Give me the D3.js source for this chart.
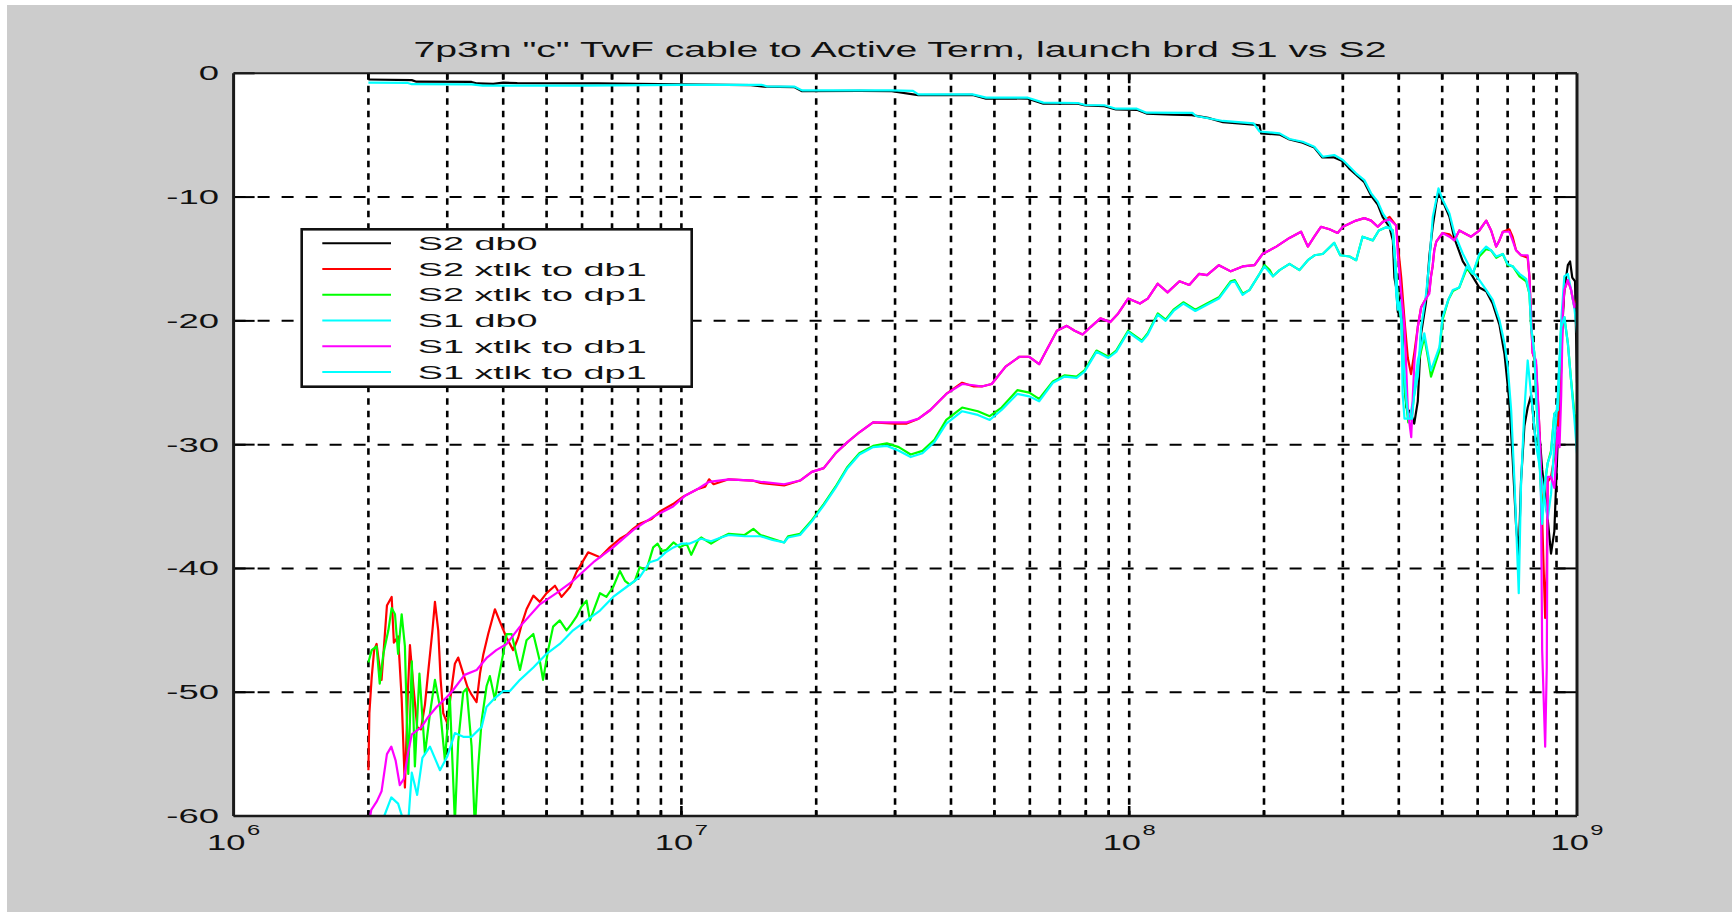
<!DOCTYPE html>
<html>
<head>
<meta charset="utf-8">
<script src="https://cdn.jsdelivr.net/npm/d3@7"></script>
<style>
  html, body { margin: 0; padding: 0; background: #ffffff; }
  svg { display: block; }
  text { font-family: "Liberation Sans", Arial, Helvetica, sans-serif; fill: #111; }
</style>
</head>
<body>
<script>
// ---- data: frequency in MHz, magnitude in dB ----
const titleText = '7p3m "c" TwF cable to Active Term, launch brd S1 vs S2';
const seriesNames = ["S2 db0", "S2 xtlk to db1", "S2 xtlk to dp1", "S1 db0", "S1 xtlk to db1", "S1 xtlk to dp1"];
const seriesColors = ["#000000", "#ff0000", "#00ff00", "#00ffff", "#ff00ff", "#00ffff"];
const yTickValues = [0, -10, -20, -30, -40, -50, -60];
const xDecades = [6, 7, 8, 9];

const s2Db0 = [[2.0,-0.5],[2.5,-0.55],[2.56,-0.68],[3.4,-0.7],[3.5,-0.82],[3.8,-0.86],[4.0,-0.76],[4.3,-0.8],[6.5,-0.82],[9.9,-0.9],[14.3,-0.95],[15.3,-1.08],[17.9,-1.12],[18.6,-1.45],[25,-1.42],[29.5,-1.45],[33.8,-1.76],[44.7,-1.75],[47.9,-2.05],[52,-2.02],[59.4,-2.05],[64.3,-2.45],[76.7,-2.45],[79.8,-2.6],[88,-2.65],[93.4,-2.92],[104,-2.95],[109.3,-3.25],[125,-3.35],[138,-3.38],[150,-3.6],[162,-3.95],[189.6,-4.15],[195.5,-4.2],[197,-4.85],[216.7,-4.95],[228,-5.35],[244,-5.6],[259,-6.0],[270,-6.8],[287,-6.8],[300,-7.1],[310,-7.7],[321,-8.2],[335,-8.8],[347,-9.9],[359,-10.6],[368,-11.6],[381,-12.4],[388,-13.5],[391,-16.5],[394.7,-17.3],[398,-19.3],[405,-17.5],[410,-24],[416,-27],[426,-27.5],[433,-28.3],[441,-26.5],[448.7,-21],[460,-18.5],[468,-14.8],[476,-12.4],[484.8,-10.5],[490.5,-9.6],[501,-10.3],[519,-11.6],[532,-13.3],[556,-15.2],[580,-16.2],[605,-17.3],[627,-17.6],[648,-18.6],[671,-20.3],[689,-22.7],[706,-26.5],[718,-31],[731,-36.5],[741,-39],[750,-32.9],[763,-28.5],[776,-27],[790,-26],[810,-30],[824,-29],[836,-32],[849,-34],[860,-36],[875,-38.8],[890,-37],[905,-30],[922,-22],[937,-17.5],[954,-15.5],[965,-15.2],[976,-16.5],[990,-16.8],[1000,-25]];

const s2Db1 = [[2.0,-56.3],[2.01,-51.7],[2.034,-48.8],[2.06,-46.6],[2.086,-46.1],[2.11,-47.5],[2.14,-49.0],[2.2,-43.0],[2.254,-42.3],[2.28,-46.0],[2.33,-45.5],[2.373,-50.5],[2.413,-57.7],[2.45,-50.0],[2.476,-46.2],[2.52,-49.5],[2.57,-52.8],[2.62,-53.0],[2.675,-51.0],[2.721,-48.3],[2.78,-45.0],[2.816,-42.7],[2.864,-45.0],[2.9,-49.0],[2.939,-51.7],[3.0,-52.5],[3.067,-49.7],[3.12,-47.7],[3.174,-47.2],[3.257,-48.5],[3.33,-49.6],[3.4,-50.2],[3.488,-50.8],[3.55,-48.5],[3.609,-47.0],[3.703,-45.3],[3.833,-43.3],[3.932,-44.3],[4.07,-45.6],[4.21,-46.6],[4.32,-45.6],[4.4,-44.5],[4.51,-43.3],[4.67,-42.2],[4.83,-42.7],[5.0,-42.0],[5.22,-41.4],[5.4,-42.3],[5.64,-41.5],[5.83,-40.3],[6.19,-38.7],[6.58,-39.1],[6.92,-38.3],[7.29,-37.6],[7.54,-37.3],[7.8,-36.8],[8.07,-36.4],[8.58,-36.0],[8.95,-35.4],[9.58,-34.8],[10.09,-34.2],[10.85,-33.6],[11.3,-33.4],[11.53,-32.8],[11.8,-33.2],[12.76,-32.8],[14.42,-32.9],[15.02,-33.1],[16.96,-33.3],[18.41,-32.9],[19.56,-32.2],[20.79,-31.9],[22.09,-30.7],[23.49,-29.8],[24.97,-29.0],[26.8,-28.2],[29.99,-28.3],[31.85,-28.3],[33.86,-27.9],[35.97,-27.2],[39.04,-25.9],[42.36,-25.0],[44.99,-25.3],[46.86,-25.3],[49.31,-25.1],[52.96,-23.7],[56.86,-22.9],[59.83,-22.9],[62.93,-23.5],[64.87,-22.6],[68.96,-20.8],[72.55,-20.4],[75.55,-20.8],[78.7,-21.1],[81.96,-20.5],[86.24,-19.8],[90.74,-20.1],[94.51,-19.4],[99.43,-18.2],[105.7,-18.6],[110,-18.2],[115.8,-17.0],[121.8,-17.7],[129.5,-16.8],[136.2,-17.1],[143.3,-16.2],[149.2,-16.3],[158.6,-15.5],[168.6,-16.0],[179.2,-15.6],[190.5,-15.5],[198.4,-14.6],[213,-14.0],[228,-13.3],[242,-12.8],[250.6,-14.0],[259,-13.2],[268,-12.4],[280,-12.6],[292,-12.9],[300,-12.4],[321,-11.9],[335,-11.7],[347,-11.9],[359,-12.4],[368.5,-12.0],[381.4,-11.6],[394.7,-12.3],[398,-13.8],[405,-16.5],[412,-20],[419,-23],[426,-24.3],[433.6,-22.5],[441,-20.5],[448.7,-18.9],[460,-18.2],[468,-17.6],[472,-16.4],[476,-15.6],[480,-14.3],[485,-13.6],[501,-12.9],[519,-13.0],[532,-13.5],[546,-12.7],[580,-13.2],[605,-12.7],[627,-11.9],[643,-12.7],[660,-14.0],[671,-13.5],[683,-12.8],[706,-12.6],[718,-13.2],[731,-14.3],[750,-14.7],[776,-14.9],[783,-16.4],[790,-20],[796,-22.6],[810,-23.5],[824,-28.6],[836,-36],[849,-44],[856,-40],[860,-33],[875,-32.6],[890,-31],[906,-28.6],[914,-26],[922,-24],[930,-19.1],[937,-17.5],[954,-16.7],[970,-17.5],[987,-18.9],[1000,-18.2]];

const s2Dp1 = [[2.0,-47.6],[2.034,-46.6],[2.086,-46.3],[2.12,-49.3],[2.16,-46.9],[2.216,-45.0],[2.254,-43.2],[2.293,-43.7],[2.33,-46.9],[2.373,-43.7],[2.413,-46.3],[2.455,-56.6],[2.5,-47.5],[2.54,-56.0],[2.6,-48.5],[2.675,-55.0],[2.745,-51.7],[2.816,-49.0],[2.889,-51.2],[2.964,-55.5],[3.04,-50.4],[3.12,-60.5],[3.174,-54.0],[3.257,-50.0],[3.314,-49.7],[3.4,-54.4],[3.458,-61],[3.518,-56.0],[3.58,-52.3],[3.673,-49.5],[3.735,-48.7],[3.833,-50.6],[3.898,-49.0],[4.0,-46.9],[4.07,-45.3],[4.177,-45.3],[4.36,-48.2],[4.51,-45.8],[4.67,-45.3],[4.83,-47.5],[4.91,-49.0],[5.04,-46.6],[5.17,-44.7],[5.35,-44.2],[5.54,-45.0],[5.68,-44.5],[5.83,-43.9],[5.98,-43.1],[6.14,-42.6],[6.25,-44.2],[6.41,-43.1],[6.58,-42.0],[6.8,-42.3],[7.04,-41.5],[7.29,-40.2],[7.48,-41.0],[7.67,-41.3],[7.87,-41.0],[8.07,-39.9],[8.36,-40.1],[8.65,-38.3],[8.85,-38.0],[9.04,-38.6],[9.26,-38.5],[9.6,-37.9],[9.92,-38.3],[10.27,-38.0],[10.52,-38.9],[10.9,-37.7],[11.07,-37.5],[11.65,-38.0],[12.26,-37.5],[12.76,-37.2],[13.84,-37.3],[14.48,-36.8],[15.02,-37.3],[15.97,-37.6],[16.96,-37.9],[17.31,-37.4],[18.41,-37.2],[19.56,-36.1],[20.79,-34.8],[22.09,-33.4],[23.49,-31.8],[24.97,-30.7],[26.8,-30.1],[28.77,-29.9],[30.58,-30.2],[32.51,-30.8],[34.54,-30.5],[36.73,-29.6],[39.04,-28.0],[42.36,-27.0],[45.93,-27.3],[48.82,-27.7],[51.88,-27.0],[56.25,-25.6],[59.83,-25.8],[62.93,-26.3],[67.54,-24.9],[71.81,-24.4],[76.3,-24.5],[79.48,-24.0],[84.52,-22.4],[89.83,-22.9],[93.55,-22.4],[99.43,-20.8],[106.7,-21.6],[110,-21.0],[115.8,-19.4],[120.6,-19.9],[125.6,-19.1],[132.1,-18.5],[140.5,-19.1],[149.2,-18.6],[158.6,-18.1],[168.6,-16.8],[172.1,-16.7],[179.2,-17.8],[185.7,-17.5],[195.5,-16.2],[200.5,-15.5],[206,-15.9],[209.4,-16.4],[216.7,-15.9],[228,-15.4],[240,-15.9],[250.6,-15.1],[259.3,-14.7],[270.5,-14.6],[287,-13.7],[296,-14.7],[310.5,-14.8],[321.3,-15.1],[332,-13.2],[350,-13.5],[361,-12.7],[377,-12.4],[387.9,-12.7],[394.7,-16.2],[397.9,-18.3],[405,-19.9],[409.7,-24.5],[415,-26.5],[420,-28.2],[428,-27.6],[434,-25.5],[441,-23.6],[456,-21.3],[466,-23.2],[472,-24.5],[493,-22.4],[501,-19.9],[516,-18.3],[528,-17.6],[546,-17.3],[567,-15.8],[585,-16.2],[605,-14.8],[627,-14.2],[643,-14.3],[660,-14.9],[683,-14.6],[700,-15.5],[719,-15.6],[744,-16.4],[770,-16.8],[783,-17.8],[790,-20.5],[803,-22.6],[810,-25.9],[824,-31],[836,-35.6],[849,-33],[860,-31.5],[875,-30.5],[890,-27.5],[906,-27.2],[922,-20.5],[937,-19.7],[954,-21.8],[970,-24.8],[987,-27.5],[1000,-28.5]];

const s1Db0 = [[2.0,-0.75],[2.45,-0.78],[2.5,-0.88],[3.4,-0.9],[3.6,-1.0],[6.0,-1.0],[9.9,-0.94],[15.1,-0.93],[15.5,-1.05],[17.9,-1.08],[18.6,-1.38],[29.5,-1.38],[32.9,-1.42],[33.8,-1.7],[44.7,-1.7],[47.9,-1.97],[59.4,-1.97],[64.3,-2.37],[76.7,-2.4],[79.8,-2.56],[88,-2.58],[93.4,-2.86],[104,-2.86],[109.3,-3.18],[138.4,-3.2],[141,-3.45],[162,-3.85],[189.6,-4.05],[195.5,-4.7],[216.7,-4.85],[228,-5.31],[244,-5.53],[259,-5.93],[270.6,-6.74],[287,-6.6],[300,-7.0],[310.5,-7.55],[321,-8.08],[335,-8.63],[347,-9.7],[359,-10.38],[368.5,-11.32],[381.4,-12.13],[387.9,-12.94],[391.2,-14.55],[394.7,-17.8],[397.9,-19.1],[405,-18.3],[408,-25.9],[411.9,-27.9],[422.5,-27.9],[433.6,-25.9],[441,-24.5],[448.7,-20.5],[460.4,-17.8],[468.3,-15.1],[476.4,-11.6],[484.8,-10.24],[490.5,-9.3],[501.5,-10.24],[519,-11.32],[532.5,-12.94],[555.7,-14.56],[580.2,-15.9],[605.4,-16.7],[626.8,-17.5],[648.4,-18.3],[671.3,-19.95],[688.6,-21.8],[700.4,-23.7],[712.8,-27.2],[725,-33],[741.2,-42.0],[750,-33.1],[763,-27.2],[776,-23.2],[790,-26],[810,-30],[836,-33],[860,-36],[875,-34],[890,-30],[906,-26],[922,-20],[937,-16.4],[954,-16.2],[970,-17.5],[987,-19],[1000,-21]];

const s1Db1 = [[2.0,-60.8],[2.03,-59.5],[2.09,-58.8],[2.14,-58.0],[2.2,-55.0],[2.25,-54.4],[2.3,-55.5],[2.35,-57.5],[2.4,-57.0],[2.45,-55.0],[2.5,-53.4],[2.63,-52.8],[2.72,-52.0],[2.84,-51.2],[2.99,-50.4],[3.08,-49.9],[3.28,-48.6],[3.49,-48.2],[3.68,-47.2],[3.86,-46.6],[4.07,-46.1],[4.36,-44.7],[4.83,-42.9],[5.26,-42.0],[5.73,-41.0],[6.36,-39.5],[7.04,-38.3],[7.8,-36.9],[8.67,-35.8],[9.58,-35.0],[10.21,-34.1],[10.85,-33.6],[11.53,-33.0],[12.76,-32.8],[14.42,-32.9],[15.02,-33.0],[16.96,-33.2],[18.41,-32.9],[19.56,-32.2],[20.79,-31.9],[22.09,-30.7],[23.49,-29.8],[24.97,-29.0],[26.8,-28.2],[29.99,-28.2],[31.85,-28.2],[33.86,-27.9],[35.97,-27.2],[39.04,-25.9],[42.36,-25.1],[44.99,-25.2],[46.86,-25.3],[49.31,-25.1],[52.96,-23.7],[56.86,-22.9],[59.83,-22.9],[62.93,-23.5],[64.87,-22.6],[68.96,-20.8],[72.55,-20.4],[75.55,-20.8],[78.7,-21.1],[81.96,-20.5],[86.24,-19.8],[90.74,-20.1],[94.51,-19.4],[99.43,-18.2],[105.7,-18.6],[110,-18.2],[115.8,-17.0],[121.8,-17.7],[129.5,-16.8],[136.2,-17.1],[143.3,-16.2],[149.2,-16.3],[158.6,-15.5],[168.6,-16.0],[179.2,-15.6],[190.5,-15.5],[198.4,-14.6],[213,-14.0],[228,-13.3],[242,-12.8],[250.6,-14.0],[259,-13.2],[268,-12.4],[280,-12.6],[292,-12.9],[300,-12.4],[321,-11.9],[335,-11.7],[347,-11.9],[359,-12.4],[368.5,-12.0],[381.4,-11.8],[394.7,-12.3],[397.9,-14.6],[405,-17.8],[411.9,-20.5],[415,-23.2],[419,-27.2],[426.4,-29.4],[430,-26],[433.6,-23.2],[441,-20.5],[448.7,-18.9],[460,-18.2],[468,-17.8],[472,-16.4],[476,-15.6],[480,-14.3],[485,-13.6],[501,-12.9],[519,-13.2],[532,-13.5],[546,-12.7],[580,-13.2],[605,-12.7],[627,-11.9],[643,-12.7],[660,-14.0],[671,-13.5],[683,-12.8],[706,-12.8],[718,-13.5],[731,-14.3],[750,-14.7],[776,-14.7],[783,-16.4],[790,-20],[796,-22.6],[810,-23.2],[824,-28.6],[830,-31.5],[836,-46.6],[849,-54.4],[856,-48],[860,-32.6],[875,-32.6],[890,-33.5],[900,-30.5],[906,-28.6],[914,-30.2],[922,-26],[930,-19.1],[937,-17.5],[954,-16.7],[970,-17.5],[987,-18.9],[1000,-18.5]];

const s1Dp1 = [[2.0,-62],[2.17,-60],[2.25,-58.5],[2.33,-59.0],[2.4,-60.5],[2.455,-60.5],[2.5,-56.5],[2.57,-58.3],[2.64,-55.3],[2.745,-54.4],[2.89,-56.3],[3.0,-55.2],[3.12,-53.3],[3.257,-53.6],[3.4,-53.6],[3.58,-52.8],[3.67,-51.2],[3.8,-50.6],[4.0,-49.9],[4.14,-49.9],[4.36,-49.0],[4.67,-48.0],[5.0,-46.9],[5.35,-46.1],[5.73,-45.0],[6.14,-44.2],[6.58,-43.4],[7.04,-42.3],[7.54,-41.5],[8.07,-40.7],[8.5,-39.5],[8.85,-39.3],[9.22,-38.7],[9.6,-38.3],[10.0,-38.0],[10.41,-38.0],[11.07,-37.6],[11.65,-37.8],[12.26,-37.5],[12.76,-37.3],[13.84,-37.4],[15.02,-37.4],[15.97,-37.7],[16.96,-37.9],[17.31,-37.5],[18.41,-37.3],[19.56,-36.2],[20.79,-34.9],[22.09,-33.5],[23.49,-31.9],[24.97,-30.8],[26.8,-30.2],[28.77,-30.1],[30.58,-30.5],[32.51,-31.0],[34.54,-30.7],[36.73,-29.8],[39.04,-28.3],[42.36,-27.3],[45.93,-27.6],[48.82,-28.0],[51.88,-27.2],[56.25,-25.9],[59.83,-26.1],[62.93,-26.5],[67.54,-25.0],[71.81,-24.5],[76.3,-24.6],[79.48,-24.1],[84.52,-22.5],[89.83,-23.0],[93.55,-22.5],[99.43,-20.9],[106.7,-21.7],[110,-21.1],[115.8,-19.5],[120.6,-20.0],[125.6,-19.2],[132.1,-18.6],[140.5,-19.2],[149.2,-18.7],[158.6,-18.2],[168.6,-16.9],[172.1,-16.8],[179.2,-17.9],[185.7,-17.5],[195.5,-16.2],[200.5,-15.6],[209.4,-16.4],[216.7,-15.9],[228,-15.4],[240,-15.9],[250.6,-15.1],[259.3,-14.7],[270.5,-14.6],[287,-13.7],[296,-14.7],[310.5,-14.8],[321.3,-15.1],[332,-13.2],[350,-13.5],[361,-12.7],[377,-12.4],[387.9,-12.7],[394.7,-16.2],[397.9,-18.3],[405,-19.9],[409.7,-23],[415,-26],[420,-27.9],[428,-27.9],[434,-25.5],[441,-23.2],[456,-21],[466,-22.9],[472,-24],[493,-22.1],[501,-19.7],[516,-18.3],[528,-17.5],[546,-17.3],[567,-15.6],[585,-16.2],[605,-14.6],[627,-14.0],[643,-14.3],[660,-14.8],[683,-14.6],[700,-15.4],[719,-15.6],[744,-16.2],[770,-16.6],[783,-17.8],[790,-20.5],[803,-22.6],[810,-25.9],[824,-31],[836,-36.4],[849,-33],[860,-31.5],[875,-30.7],[890,-27.5],[906,-27.2],[922,-20.5],[937,-19.7],[954,-21.8],[970,-24.8],[987,-28],[1000,-30.7]];

// draw order: S2 first, S1 on top
const seriesData = [s2Db0, s2Db1, s2Dp1, s1Db0, s1Db1, s1Dp1];

// ---- layout ----
const W = 1732, H = 912;
const plot = { left: 233.6, right: 1577, top: 73.3, bottom: 816 };

const svg = d3.select("body").append("svg").attr("width", W).attr("height", H);

// figure background
svg.append("rect").attr("x", 7).attr("y", 5).attr("width", W - 7).attr("height", H - 5).attr("fill", "#cccccc");

const x = d3.scaleLog().domain([1e6, 1e9]).range([plot.left, plot.right]);
const y = d3.scaleLinear().domain([-60, 0]).range([plot.bottom, plot.top]);

// axes background
svg.append("rect")
  .attr("x", plot.left).attr("y", plot.top)
  .attr("width", plot.right - plot.left).attr("height", plot.bottom - plot.top)
  .attr("fill", "#ffffff");

// grid: vertical lines at every 1..9 x decade inside the range
const minorTicks = [];
for (let d = 6; d < 9; d++) {
  for (let m = 1; m <= 9; m++) {
    const v = m * Math.pow(10, d);
    if (v > 1e6 && v < 1e9) minorTicks.push(v);
  }
}
const grid = svg.append("g");
grid.selectAll("line.vg").data(minorTicks).join("line")
  .attr("class", "vg")
  .attr("x1", d => x(d)).attr("x2", d => x(d))
  .attr("y1", plot.top).attr("y2", plot.bottom)
  .attr("stroke", "#000").attr("stroke-width", 2.6)
  .attr("stroke-dasharray", "6.5,6");

grid.selectAll("line.hg").data(yTickValues.filter(v => v > -60 && v < 0)).join("line")
  .attr("class", "hg")
  .attr("x1", plot.left).attr("x2", plot.right)
  .attr("y1", d => y(d)).attr("y2", d => y(d))
  .attr("stroke", "#000").attr("stroke-width", 2)
  .attr("stroke-dasharray", "12,12");

// tick marks (inward, on all four sides)
const ticks = svg.append("g").attr("stroke", "#000");
yTickValues.forEach(v => {
  ticks.append("line").attr("x1", plot.left).attr("x2", plot.left + 21).attr("y1", y(v)).attr("y2", y(v)).attr("stroke-width", 2);
  ticks.append("line").attr("x1", plot.right).attr("x2", plot.right - 21).attr("y1", y(v)).attr("y2", y(v)).attr("stroke-width", 2);
});
minorTicks.forEach(v => {
  const major = Math.abs(Math.log10(v) - Math.round(Math.log10(v))) < 1e-9;
  const len = major ? 10 : 6;
  ticks.append("line").attr("x1", x(v)).attr("x2", x(v)).attr("y1", plot.bottom).attr("y2", plot.bottom - len).attr("stroke-width", 2.6);
  ticks.append("line").attr("x1", x(v)).attr("x2", x(v)).attr("y1", plot.top).attr("y2", plot.top + len).attr("stroke-width", 2.6);
});

// data lines
svg.append("clipPath").attr("id", "plotClip").append("rect")
  .attr("x", plot.left).attr("y", plot.top)
  .attr("width", plot.right - plot.left).attr("height", plot.bottom - plot.top);

const line = d3.line().x(d => x(d[0] * 1e6)).y(d => y(d[1]));
const lines = svg.append("g").attr("clip-path", "url(#plotClip)");
seriesData.forEach((s, i) => {
  lines.append("path")
    .attr("d", line(s))
    .attr("fill", "none")
    .attr("stroke", seriesColors[i])
    .attr("stroke-width", 2.2)
    .attr("stroke-linejoin", "round");
});

// axes box
const box = svg.append("g").attr("stroke", "#1a1a1a");
box.append("line").attr("x1", plot.left).attr("x2", plot.right).attr("y1", plot.top).attr("y2", plot.top).attr("stroke-width", 2);
box.append("line").attr("x1", plot.left).attr("x2", plot.right).attr("y1", plot.bottom).attr("y2", plot.bottom).attr("stroke-width", 2.4);
box.append("line").attr("x1", plot.left).attr("x2", plot.left).attr("y1", plot.top).attr("y2", plot.bottom).attr("stroke-width", 3);
box.append("line").attr("x1", plot.right).attr("x2", plot.right).attr("y1", plot.top).attr("y2", plot.bottom).attr("stroke-width", 3);

// horizontally stretched text helper
function stretchedText(parent, str, px, py, size, sx, anchor) {
  return parent.append("text")
    .attr("transform", `translate(${px},${py}) scale(${sx},1)`)
    .attr("text-anchor", anchor || "start")
    .attr("font-size", size)
    .text(str);
}

// y tick labels
const yLab = svg.append("g");
yTickValues.forEach(v => {
  stretchedText(yLab, String(v), 219, y(v) + 19.5 * 0.36, 19.5, 1.87, "end");
});

// x tick labels: 10 with superscript exponent
const xLab = svg.append("g");
xDecades.forEach(e => {
  const cx = x(Math.pow(10, e));
  const g = xLab.append("g");
  const base = stretchedText(g, "10", 0, 850, 23, 1.5, "start");
  const sup = stretchedText(g, String(e), 0, 835, 14, 1.7, "start");
  const wBase = base.node().getComputedTextLength() * 1.5;
  const wSup = sup.node().getComputedTextLength() * 1.7;
  const total = wBase + 1.5 + wSup;
  const x0 = cx - total / 2;
  base.attr("transform", `translate(${x0},850) scale(1.5,1)`);
  sup.attr("transform", `translate(${x0 + wBase + 1.5},835) scale(1.7,1)`);
});

// title
stretchedText(svg, titleText, 900, 56.7, 22, 1.78, "middle");

// legend
const leg = { left: 301.7, top: 229.3, right: 691.7, bottom: 386.7, row0: 243.3, rowStep: 25.75 };
const legend = svg.append("g");
legend.append("rect")
  .attr("x", leg.left).attr("y", leg.top)
  .attr("width", leg.right - leg.left).attr("height", leg.bottom - leg.top)
  .attr("fill", "#ffffff").attr("stroke", "#111").attr("stroke-width", 2.6);
seriesNames.forEach((name, i) => {
  const ry = leg.row0 + i * leg.rowStep;
  legend.append("line")
    .attr("x1", 322.3).attr("x2", 391).attr("y1", ry).attr("y2", ry)
    .attr("stroke", seriesColors[i]).attr("stroke-width", 2);
  stretchedText(legend, name, 417.7, ry + 18 * 0.36, 18, 2.1, "start");
});
</script>
</body>
</html>
